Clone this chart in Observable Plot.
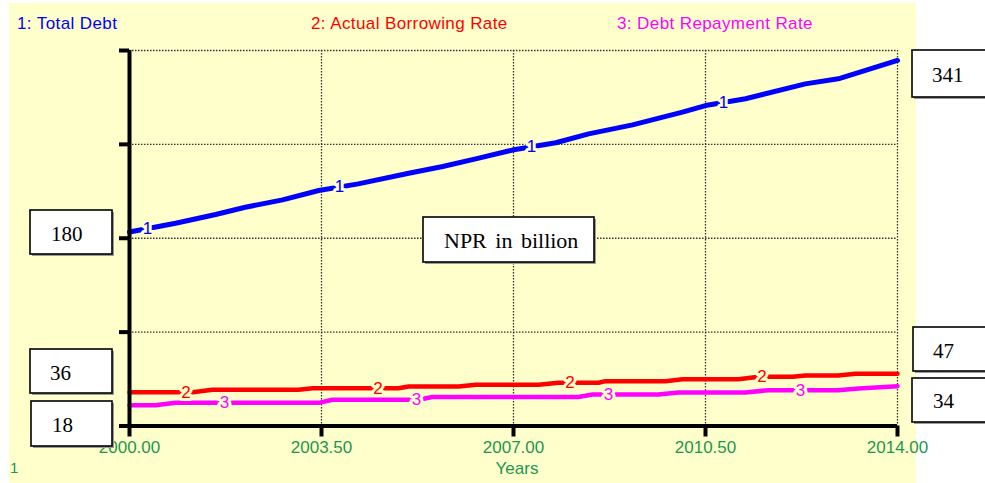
<!DOCTYPE html>
<html>
<head>
<meta charset="utf-8">
<script src="https://cdn.jsdelivr.net/npm/d3@7"></script>
<script src="https://cdn.jsdelivr.net/npm/@observablehq/plot@0.6"></script>
<style>
  html, body { margin: 0; padding: 0; background: white; }
  #chart svg { display: block; }
</style>
</head>
<body>
<div id="chart"></div>
<script>
// ---- data ----
const debtYears = [2000.00, 2000.84, 2001.57, 2002.11, 2002.79, 2003.45, 2004.17, 2005.09, 2005.71, 2006.31, 2006.98, 2007.77, 2008.37, 2009.17, 2010.08, 2010.50, 2011.23, 2012.32, 2012.92, 2014.00];
const totalDebt = [180.8, 189.0, 197.1, 203.9, 210.8, 219.5, 225.7, 235.6, 241.9, 249.0, 257.2, 264.0, 272.3, 280.7, 292.5, 298.7, 305.0, 318.9, 323.6, 340.7];

const borrowYears = [2000.00, 2001.15, 2001.51, 2003.08, 2003.34, 2004.90, 2005.09, 2006.00, 2006.31, 2007.46, 2007.82, 2008.55, 2008.68, 2009.77, 2010.08, 2011.10, 2011.47, 2012.09, 2012.32, 2012.92, 2013.23, 2014.00];
const borrowingRate = [31.5, 31.5, 33.7, 33.7, 35.2, 35.2, 36.8, 36.8, 38.5, 38.5, 40.3, 40.3, 41.8, 41.8, 43.6, 43.6, 45.9, 45.9, 47.1, 47.1, 48.7, 48.7];

const repayYears = [2000.00, 2000.47, 2000.84, 2003.45, 2003.70, 2005.27, 2005.52, 2008.18, 2008.44, 2009.64, 2010.01, 2011.23, 2011.65, 2012.92, 2013.29, 2014.00];
const repaymentRate = [19.4, 19.4, 21.6, 21.6, 24.4, 24.4, 27.0, 27.0, 29.4, 29.4, 31.2, 31.2, 33.4, 33.4, 35.0, 37.1];

const seriesNames = ["1: Total Debt", "2: Actual Borrowing Rate", "3: Debt Repayment Rate"];
const seriesColors = ["#0000FF", "#FF0000", "#FF00FF"];
const seriesTags = ["1", "2", "3"];
const tagYears = [
  [2000.33, 2003.83, 2007.33, 2010.83],
  [2001.03, 2004.53, 2008.03, 2011.53],
  [2001.73, 2005.23, 2008.73, 2012.23]
];

const xTicks = [2000, 2003.5, 2007, 2010.5, 2014];
const yTicks = [0, 87.5, 175, 262.5, 350];
const xLabel = "Years";
const unitNote = "NPR in billion";
const valueBoxes = ["180", "36", "18", "341", "47", "34"];

// ---- build tables ----
const seriesYears = [debtYears, borrowYears, repayYears];
const seriesValues = [totalDebt, borrowingRate, repaymentRate];
const lineData = seriesValues.map((vals, i) => vals.map((v, j) => ({year: seriesYears[i][j], value: v, s: i})));
const tagData = tagYears.flatMap((ys, i) => {
  const f = d3.scaleLinear().domain(seriesYears[i]).range(seriesValues[i]);
  return ys.map(y => ({year: y, value: f(y), s: i}));
});

const bg = "#FFFFCC";
const green = "#1E9650";
const sans = "'Liberation Sans', Arial, sans-serif";
const serif = "'Liberation Serif', 'Times New Roman', serif";

const chart = Plot.plot({
  width: 985,
  height: 483,
  marginLeft: 129,
  marginRight: 88,
  marginTop: 50,
  marginBottom: 57.5,
  style: {background: "white", fontFamily: sans, overflow: "visible"},
  x: {domain: [2000, 2014]},
  y: {domain: [0, 350]},
  marks: [
    Plot.gridX({ticks: xTicks.slice(1), stroke: "#333", strokeOpacity: 1, strokeWidth: 1.3, strokeDasharray: "1.5,1.5"}),
    Plot.gridY({ticks: yTicks.slice(1), stroke: "#333", strokeOpacity: 1, strokeWidth: 1.3, strokeDasharray: "1.5,1.5"}),
    ...lineData.map((d, i) => Plot.line(d, {x: "year", y: "value", stroke: seriesColors[i], strokeWidth: i === 0 ? 5 : 4.5, strokeLinejoin: "round"})),
    Plot.text(tagData, {x: "year", y: "value", text: d => seriesTags[d.s], fill: d => seriesColors[d.s], stroke: bg, strokeWidth: 6, paintOrder: "stroke", fontSize: 17, fontFamily: sans, textAnchor: "middle", lineAnchor: "middle"}),
    Plot.ruleX([2000], {stroke: "black", strokeWidth: 4}),
    Plot.ruleY([0], {stroke: "black", strokeWidth: 4}),
    Plot.axisY({ticks: yTicks, tickSize: 10, stroke: "black", strokeWidth: 4, tickFormat: () => "", label: null}),
    Plot.axisX({ticks: xTicks, tickSize: 11, tickPadding: 3.5, stroke: "black", strokeWidth: 4, fill: green, fontSize: 17, fontFamily: sans, tickFormat: d3.format(".2f"), label: null})
  ]
});

document.getElementById("chart").appendChild(chart);

const svg = d3.select(chart);
svg.insert("rect", ":first-child")
  .attr("x", 9).attr("y", 3).attr("width", 907).attr("height", 480)
  .attr("fill", bg);

// legend at top
const legendX = [17, 311, 617];
seriesNames.forEach((name, i) => {
  svg.append("text").attr("x", legendX[i]).attr("y", 29).attr("text-anchor", "start")
    .attr("fill", seriesColors[i]).attr("font-family", sans).attr("font-size", 17)
    .attr("letter-spacing", "0.4px").text(name);
});

// axis title and page number
svg.append("text").attr("x", 517).attr("y", 474).attr("text-anchor", "middle")
  .attr("fill", green).attr("font-family", sans).attr("font-size", 17).text(xLabel);
svg.append("text").attr("x", 10).attr("y", 473).attr("text-anchor", "start")
  .attr("fill", green).attr("font-family", sans).attr("font-size", 15).text("1");

// annotation boxes
function box(x, y, w, h, label, tx, ty, size) {
  svg.append("rect").attr("x", x + 2).attr("y", y + 2).attr("width", w).attr("height", h).attr("fill", "#9a9a9a");
  svg.append("rect").attr("x", x).attr("y", y).attr("width", w).attr("height", h)
    .attr("fill", "white").attr("stroke", "black").attr("stroke-width", 1.6);
  svg.append("text").attr("x", tx).attr("y", ty).attr("text-anchor", "start").attr("font-family", serif)
    .attr("font-size", size).attr("fill", "black").attr("word-spacing", "3px").text(label);
}
box(30, 210, 82, 44, valueBoxes[0], 51, 241, 21);
box(30, 349, 82, 44, valueBoxes[1], 50, 380, 21);
box(31, 401, 81, 45, valueBoxes[2], 52, 432, 21);
box(912, 50, 80, 47, valueBoxes[3], 932, 82, 21);
box(913, 327, 80, 44, valueBoxes[4], 933, 358, 21);
box(912, 378, 80, 44, valueBoxes[5], 933, 408, 21);
box(423, 217, 171, 45, unitNote, 444, 248, 22);
</script>
</body>
</html>
